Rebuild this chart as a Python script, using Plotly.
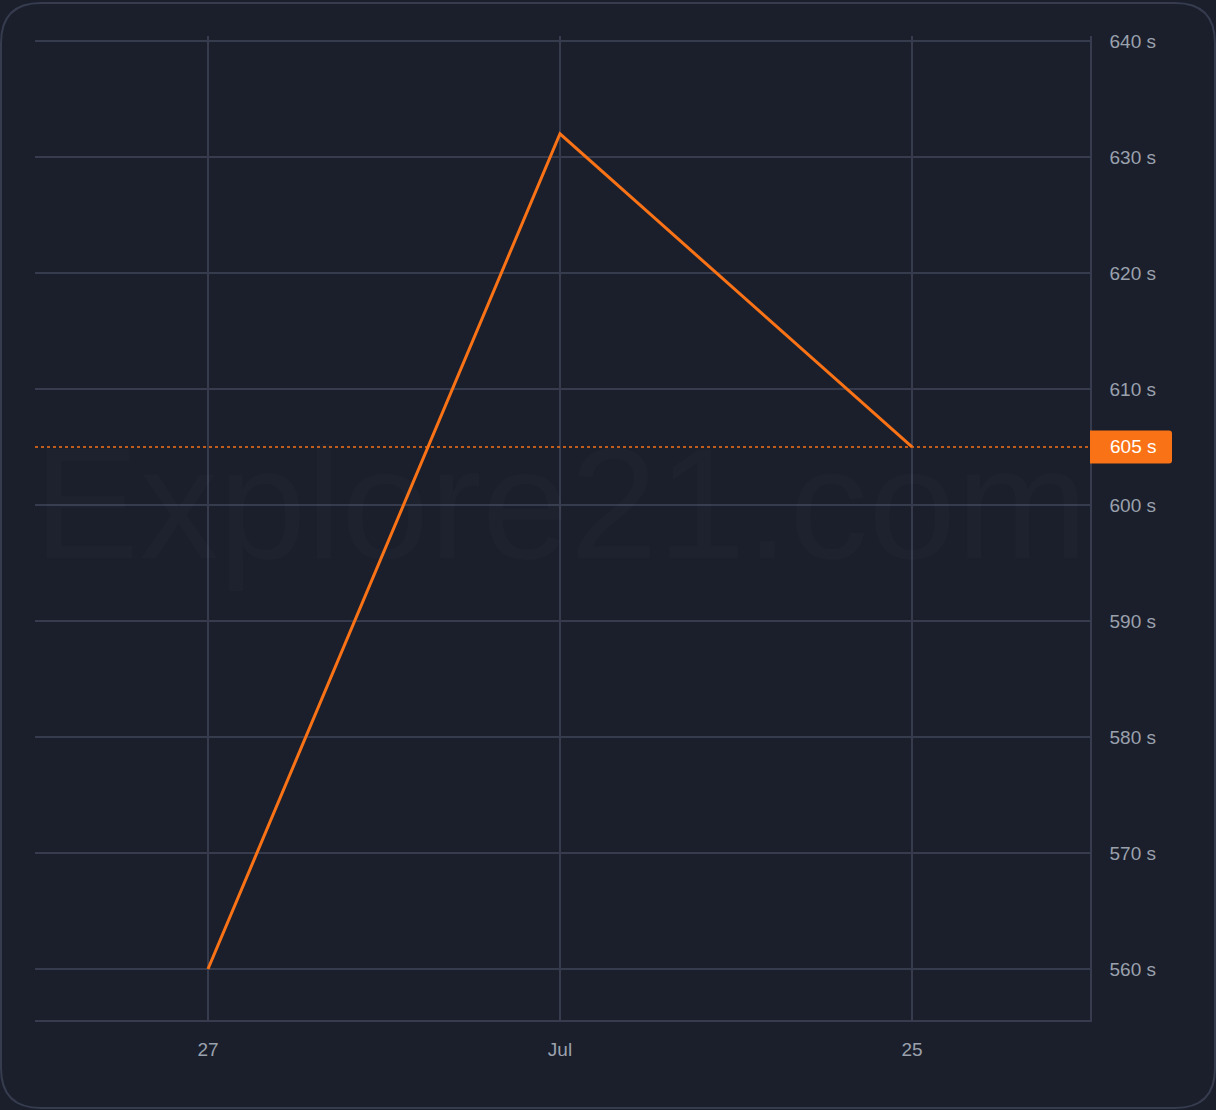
import plotly.graph_objects as go

# ---- data ----
dates = ["2024-06-27", "2024-07-11", "2024-07-25"]
values = [560, 632, 605]
x_tick_labels = ["27", "Jul", "25"]
y_ticks = [560, 570, 580, 590, 600, 610, 620, 630, 640]
y_tick_labels = [f"{v} s" for v in y_ticks]
last_value = 605
watermark = "Explore21.com"

BG = "#1b1f2c"
GRID = "#363c4e"
ORANGE = "#f97316"
TEXT = "#9aa1ad"
FONT = "Liberation Sans, Arial, sans-serif"

fig = go.Figure()
fig.add_trace(go.Scatter(
    x=dates, y=values, mode="lines",
    line=dict(color=ORANGE, width=3),
    hoverinfo="skip", showlegend=False,
))

# dotted last-value line
fig.add_shape(type="line", xref="paper", yref="y", x0=0, x1=1,
              y0=last_value, y1=last_value,
              line=dict(color=ORANGE, width=1.3, dash="3px,3px"), layer="above")

# last value label box (rounded on the right)
r = 3
w = 82
h = 16.5
box_path = (f"M 0 {-h} L {w - r} {-h} Q {w} {-h} {w} {-h + r} "
            f"L {w} {h - r} Q {w} {h} {w - r} {h} L 0 {h} Z")
fig.add_shape(type="path", xref="paper", yref="y",
              xsizemode="pixel", ysizemode="pixel",
              xanchor=1, yanchor=last_value, path=box_path,
              fillcolor=ORANGE, line=dict(width=0), layer="above")
fig.add_annotation(xref="paper", yref="y", x=1, y=last_value,
                   xanchor="left", yanchor="middle", xshift=18,
                   text=f"{last_value} s", showarrow=False,
                   font=dict(family=FONT, size=19, color="#ffffff"))

# watermark
fig.add_annotation(xref="paper", yref="y", x=0.4986, y=600.2,
                   xanchor="center", yanchor="middle",
                   text=watermark, showarrow=False,
                   font=dict(family=FONT, size=158, color="rgba(255,255,255,0.016)"))

# outer rounded frame (pixel coords relative to plot bottom-left)
R = 40
L, Rt, T, B = -34, 1180, 1017, -88
frame = (f"M {L + R} {T} L {Rt - R} {T} Q {Rt} {T} {Rt} {T - R} "
         f"L {Rt} {B + R} Q {Rt} {B} {Rt - R} {B} "
         f"L {L + R} {B} Q {L} {B} {L} {B + R} "
         f"L {L} {T - R} Q {L} {T} {L + R} {T} Z")
fig.add_shape(type="path", xref="paper", yref="paper",
              xsizemode="pixel", ysizemode="pixel",
              xanchor=0, yanchor=0, path=frame,
              line=dict(color=GRID, width=2), fillcolor="rgba(0,0,0,0)", layer="below")

fig.update_layout(
    width=1216, height=1110,
    margin=dict(l=35, r=126, t=36, b=90, pad=0),
    paper_bgcolor=BG, plot_bgcolor=BG,
    font=dict(family=FONT, size=19, color=TEXT),
    hovermode=False, showlegend=False,
)
fig.update_xaxes(
    type="date",
    range=["2024-06-20 02:53", "2024-08-01 01:55"],
    tickvals=dates, ticktext=x_tick_labels,
    showgrid=True, gridcolor=GRID, gridwidth=1.5,
    showline=True, linecolor=GRID, linewidth=1.5,
    zeroline=False, ticks="", ticklabelstandoff=11,
    tickfont=dict(family=FONT, size=19, color=TEXT),
)
fig.update_yaxes(
    side="right",
    range=[555.6, 640.43],
    tickvals=y_ticks, ticktext=y_tick_labels,
    showgrid=True, gridcolor=GRID, gridwidth=1.5,
    showline=True, linecolor=GRID, linewidth=1.5,
    zeroline=False, ticks="", ticklabelstandoff=14,
    tickfont=dict(family=FONT, size=19, color=TEXT),
)

fig.write_html(
    "out.html",
    config={"displayModeBar": False},
    post_script=(
        "document.body.style.margin='0';"
        "document.body.style.background='" + BG + "';"
        "document.documentElement.style.overflow='hidden';"
    ),
)
